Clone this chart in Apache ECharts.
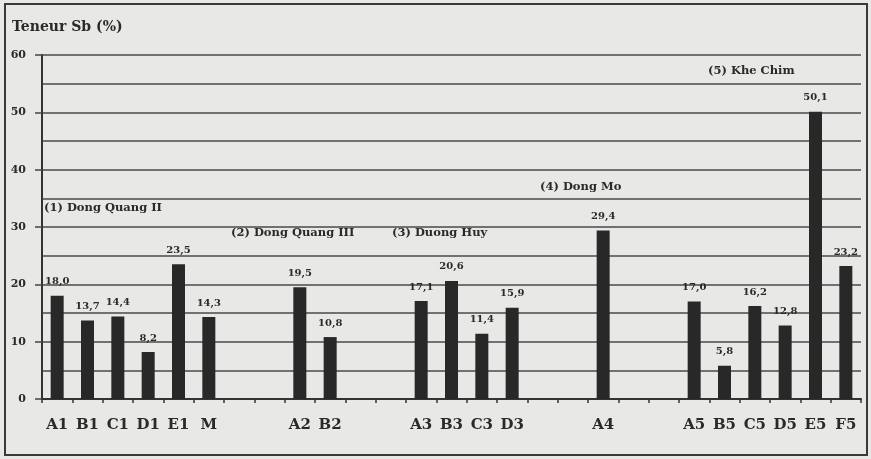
<!DOCTYPE html>
<html>
<head>
<meta charset="utf-8">
<script src="https://cdn.jsdelivr.net/npm/echarts@6/dist/echarts.min.js"></script>
<style>
html,body{margin:0;padding:0;background:#e8e8e6;}
#c{width:871px;height:459px;}
</style>
</head>
<body>
<div id="c"></div>
<script>
const categories = ['A1','B1','C1','D1','E1','M','','','A2','B2','','','A3','B3','C3','D3','','','A4','','','A5','B5','C5','D5','E5','F5'];
const values = [18.0,13.7,14.4,8.2,23.5,14.3,null,null,19.5,10.8,null,null,17.1,20.6,11.4,15.9,null,null,29.4,null,null,17.0,5.8,16.2,12.8,50.1,23.2];
const groupNames = ['(1) Dong Quang II','(2) Dong Quang III','(3) Duong Huy','(4) Dong Mo','(5) Khe Chim'];
const yTitle = 'Teneur Sb (%)';

const FONT = '"DejaVu Serif", "Liberation Serif", serif';
const chart = echarts.init(document.getElementById('c'));

const groupPos = [[44,208],[231,233],[392,233],[540,187],[708,71]];

chart.setOption({
  backgroundColor: '#e8e8e6',
  animation: false,
  grid: {left: 42, right: 10, top: 55, bottom: 60},
  xAxis: {
    type: 'category',
    data: categories,
    axisLine: {lineStyle: {color: '#333', width: 2}},
    axisTick: {show: true, length: 4, lineStyle: {color: '#333', width: 1.5}},
    axisLabel: {interval: 0, margin: 19, color: '#2a2a2a', fontFamily: FONT, fontWeight: 'bold', fontSize: 15},
    splitLine: {show: false}
  },
  yAxis: {
    type: 'value',
    min: 0, max: 60, interval: 10,
    axisLine: {show: true, lineStyle: {color: '#333', width: 2}},
    axisTick: {show: true, length: 7, lineStyle: {color: '#444', width: 1.5}},
    axisLabel: {margin: 16, color: '#2a2a2a', fontFamily: FONT, fontWeight: 'bold', fontSize: 11},
    splitLine: {show: true, lineStyle: {color: '#4a4a4a', width: 1.5}},
    minorTick: {show: false, splitNumber: 2},
    minorSplitLine: {show: true, lineStyle: {color: '#4a4a4a', width: 1.5}}
  },
  series: [{
    type: 'bar',
    data: values,
    barWidth: 13,
    itemStyle: {color: '#282828'},
    label: {
      show: true,
      position: 'top',
      distance: 9,
      color: '#2a2a2a',
      fontFamily: FONT,
      fontWeight: 'bold',
      fontSize: 10,
      formatter: p => p.value == null ? '' : p.value.toFixed(1).replace('.', ',')
    }
  }],
  graphic: [
    {type: 'rect', silent: true, shape: {x: 5, y: 4, width: 862, height: 451},
     style: {fill: 'none', stroke: '#3a3a3a', lineWidth: 2}},
    {type: 'text', x: 12, y: 27,
     style: {text: yTitle, fill: '#2a2a2a', font: 'bold 14px ' + FONT, verticalAlign: 'middle'}}
  ].concat(groupNames.map((n, i) => ({
    type: 'text', x: groupPos[i][0], y: groupPos[i][1],
    style: {text: n, fill: '#2a2a2a', font: 'bold 11.5px ' + FONT, verticalAlign: 'middle', align: 'left'}
  })))
});
</script>
</body>
</html>
